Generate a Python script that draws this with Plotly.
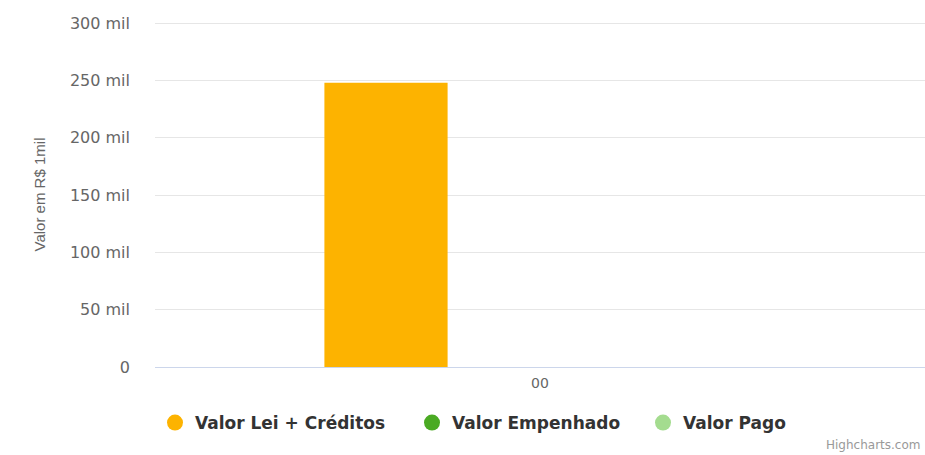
import plotly.graph_objects as go

categories = ["00"]
series_names = ["Valor Lei + Créditos", "Valor Empenhado", "Valor Pago"]
valor_lei = [248000]
valor_empenhado = [0]
valor_pago = [0]
series_colors = ["#FDB300", "#4AAA23", "#A4DC8F"]
tick_vals = [0, 50000, 100000, 150000, 200000, 250000, 300000]
tick_text = ["0", "50 mil", "100 mil", "150 mil", "200 mil", "250 mil", "300 mil"]
y_max = 300000

W, H = 925, 455
legend_ids = ["legend", "legend2", "legend3"]
legend_marker_x = [175, 432, 663]  # marker centres in figure pixels

fig = go.Figure()
for name, vals, col in zip(series_names, [valor_lei, valor_empenhado, valor_pago], series_colors):
    fig.add_trace(go.Bar(x=categories, y=vals, name=name, marker_color=col,
                         marker_line_width=0, showlegend=False, hoverinfo="x+y+name"))
# legend entries with circle symbols
for name, col, lid in zip(series_names, series_colors, legend_ids):
    fig.add_trace(go.Scatter(x=[None], y=[None], mode="markers", name=name, legend=lid,
                             marker=dict(symbol="circle", size=16, color=col)))

legend_style = dict(orientation="h", xref="container", yref="container",
                    xanchor="left", y=1 - 423 / H, yanchor="middle",
                    font=dict(family="DejaVu Sans", size=17, color="#333333", weight="bold"),
                    itemwidth=30, bgcolor="rgba(0,0,0,0)")
legends = {}
for lid, mx in zip(legend_ids, legend_marker_x):
    legends[lid] = dict(legend_style, x=(mx - 20) / W)

fig.update_layout(
    width=W, height=H,
    paper_bgcolor="white", plot_bgcolor="white",
    margin=dict(l=155, r=0, t=22, b=88, autoexpand=False),
    barmode="group", bargap=0.4, bargroupgap=0.2,
    font=dict(family="DejaVu Sans", color="#666666"),
    xaxis=dict(showgrid=False, showline=True, linecolor="#ccd6eb", linewidth=1,
               tickfont=dict(size=14, color="#666666"), ticks="", ticklabelstandoff=3),
    yaxis=dict(range=[0, y_max * 1.003], tickvals=tick_vals, ticktext=tick_text,
               showgrid=True, gridcolor="#e6e6e6", zeroline=False,
               tickfont=dict(size=16, color="#666666"), ticklabelstandoff=24,
               title=dict(text="Valor em R$ 1mil", standoff=20,
                          font=dict(family="Liberation Sans Narrow, Liberation Sans", size=15, color="#666666"))),
    **legends,
)
fig.add_annotation(text="Highcharts.com", xref="paper", yref="paper", x=1, xanchor="right",
                   y=-88 / 345, yanchor="bottom", showarrow=False, xshift=-3, yshift=1,
                   font=dict(family="DejaVu Sans", size=12, color="#999999"))
fig.write_html("out.html", config={"displayModeBar": False},
               post_script="document.body.style.margin='0';document.body.style.overflow='hidden';")
